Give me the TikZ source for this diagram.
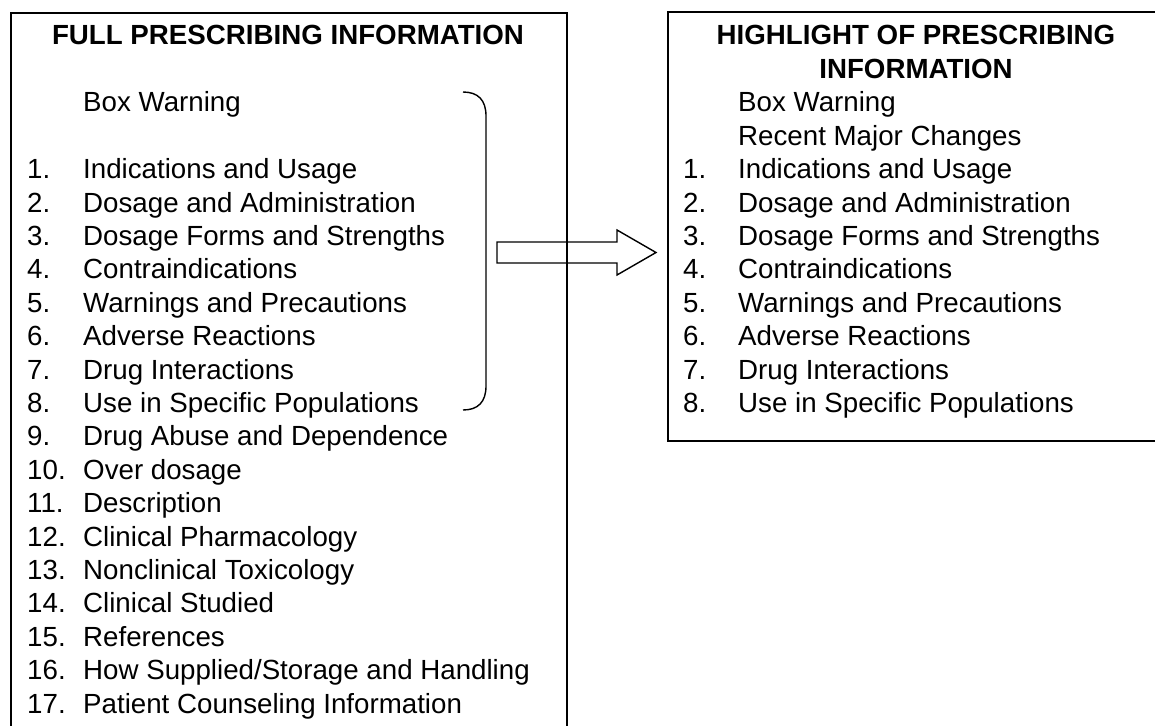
\documentclass[tikz,border=0pt]{standalone}
\usepackage{fontspec}
\setmainfont{Liberation Sans}
\begin{document}
\begin{tikzpicture}[x=1pt,y=-1pt,
  txt/.style={anchor=base west, inner sep=0pt, font=\fontsize{27.7pt}{33pt}\selectfont},
  ttl/.style={anchor=base, inner sep=0pt, font=\fontsize{27.7pt}{33pt}\selectfont\bfseries},
  frame/.style={draw, line width=1.8pt, inner sep=0pt, anchor=north west},
  thin/.style={draw, line width=1.4pt}]
\clip (0,0) rectangle (1155,725);
\fill[white] (0,0) rectangle (1155,725);
% arrow (drawn first so the box border passes over it)
\coordinate (a0) at (497,252.5);
\coordinate (tip) at (656,252.5);
\draw[thin, line join=miter] (a0) ++(0,-10.5) -- (617,242) -- (617,230) -- (tip) -- (617,275) -- (617,263) -- (497,263) -- cycle;
% boxes
\node[frame, minimum width=556pt, minimum height=760pt] (fullbox) at (10,12) {};
\node[frame, minimum width=498pt, minimum height=429pt] (highbox) at (667,11) {};
% left titles
\node[ttl] (ftitle) at (288,45) {FULL PRESCRIBING INFORMATION};
\node[txt] (fbw) at (83,111.8) {Box Warning};
\foreach \t [count=\i] in {Indications and Usage, Dosage and Administration, Dosage Forms and Strengths, Contraindications, Warnings and Precautions, Adverse Reactions, Drug Interactions, Use in Specific Populations, Drug Abuse and Dependence, Over dosage, Description, Clinical Pharmacology, Nonclinical Toxicology, Clinical Studied, References, How Supplied/Storage and Handling, Patient Counseling Information} {
  \pgfmathsetmacro\yy{45+33.4*(\i+3)}
  \node[txt] (fn\i) at (27,\yy) {\i.};
  \node[txt] (ft\i) at (83,\yy) {\t};
}
% right titles
\node[ttl] (htitle1) at (916,45) {HIGHLIGHT OF PRESCRIBING};
\node[ttl] (htitle2) at (916,78.4) {INFORMATION};
\node[txt] (hbw) at (738,111.8) {Box Warning};
\node[txt] (hrmc) at (738,145.2) {Recent Major Changes};
\foreach \t [count=\i] in {Indications and Usage, Dosage and Administration, Dosage Forms and Strengths, Contraindications, Warnings and Precautions, Adverse Reactions, Drug Interactions, Use in Specific Populations} {
  \pgfmathsetmacro\yy{45+33.4*(\i+3)}
  \node[txt] (hn\i) at (683,\yy) {\i.};
  \node[txt] (ht\i) at (738,\yy) {\t};
}
% bracket
\draw[thin] (463,92) .. controls (478,92) and (486,100) .. (486,116) -- (486,386) .. controls (486,402) and (478,410) .. (463,410);
\end{tikzpicture}
\end{document}
